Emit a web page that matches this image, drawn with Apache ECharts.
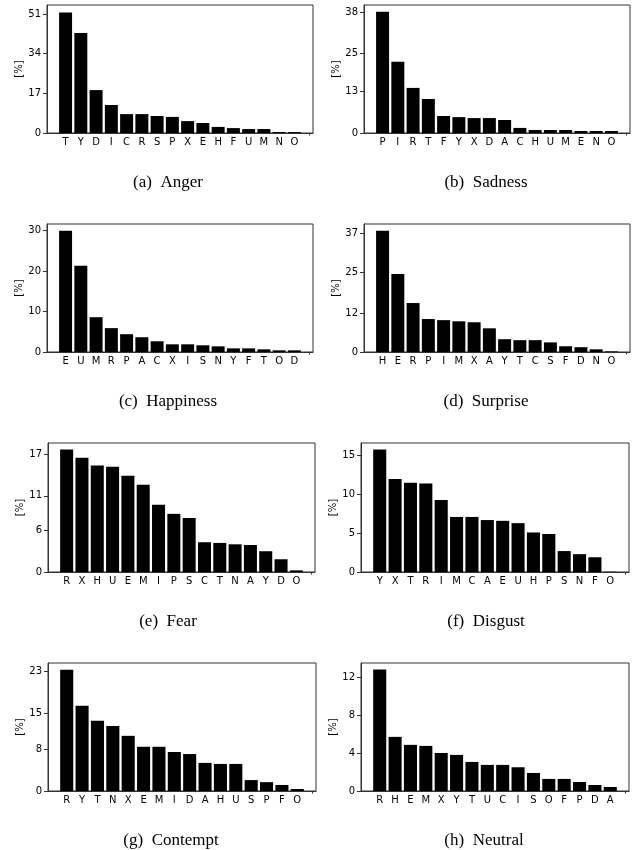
<!DOCTYPE html>
<html>
<head>
<meta charset="utf-8">
<script src="https://cdn.jsdelivr.net/npm/echarts@6/dist/echarts.min.js"></script>
<style>
html,body{margin:0;padding:0;background:#fff;}
#c{width:637px;height:850px;}
</style>
</head>
<body>
<div id="c"></div>
<script>
// ---- data ----
const angerCats = ['T','Y','D','I','C','R','S','P','X','E','H','F','U','M','N','O'];
const angerVals = [51.7,42.9,18.4,12.0,8.1,8.1,7.3,6.9,5.1,4.3,2.6,2.1,1.7,1.7,0.4,0.4];
const angerTicks = [0,17,34,51];

const sadnessCats = ['P','I','R','T','F','Y','X','D','A','C','H','U','M','E','N','O'];
const sadnessVals = [38.2,22.4,14.2,10.7,5.35,5.0,4.7,4.7,4.1,1.6,0.95,0.95,0.95,0.63,0.63,0.63];
const sadnessTicks = [0,13,25,38];

const happinessCats = ['E','U','M','R','P','A','C','X','I','S','N','Y','F','T','O','D'];
const happinessVals = [30.0,21.3,8.6,5.9,4.4,3.65,2.65,1.9,1.9,1.66,1.4,0.9,0.9,0.66,0.41,0.41];
const happinessTicks = [0,10,20,30];

const surpriseCats = ['H','E','R','P','I','M','X','A','Y','T','C','S','F','D','N','O'];
const surpriseVals = [37.9,24.4,15.3,10.3,9.96,9.6,9.3,7.4,4.0,3.7,3.7,3.0,1.8,1.5,0.84,0.2];
const surpriseTicks = [0,12,25,37];

const fearCats = ['R','X','H','U','E','M','I','P','S','C','T','N','A','Y','D','O'];
const fearVals = [17.7,16.5,15.4,15.2,13.9,12.6,9.7,8.4,7.8,4.3,4.2,4.0,3.9,3.0,1.84,0.24];
const fearTicks = [0,6,11,17];

const disgustCats = ['Y','X','T','R','I','M','C','A','E','U','H','P','S','N','F','O'];
const disgustVals = [15.8,12.0,11.5,11.4,9.3,7.1,7.1,6.7,6.6,6.3,5.1,4.9,2.7,2.3,1.9,0.04];
const disgustTicks = [0,5,10,15];

const contemptCats = ['R','Y','T','N','X','E','M','I','D','A','H','U','S','P','F','O'];
const contemptVals = [23.3,16.4,13.5,12.5,10.6,8.5,8.5,7.5,7.1,5.4,5.2,5.2,2.1,1.7,1.16,0.39];
const contemptTicks = [0,8,15,23];

const neutralCats = ['R','H','E','M','X','Y','T','U','C','I','S','O','F','P','D','A'];
const neutralVals = [12.8,5.7,4.86,4.75,4.0,3.8,3.06,2.75,2.75,2.5,1.9,1.27,1.27,0.95,0.63,0.42];
const neutralTicks = [0,4,8,12];

const captions = ['(a)\u2002Anger','(b)\u2002Sadness','(c)\u2002Happiness','(d)\u2002Surprise',
                  '(e)\u2002Fear','(f)\u2002Disgust','(g)\u2002Contempt','(h)\u2002Neutral'];

// ---- layout ----
const panels = [
  {cats:angerCats, vals:angerVals, ticks:angerTicks, ymax:54.9, g:{left:47,top:5,width:266,height:128}, cap:[163,169]},
  {cats:sadnessCats, vals:sadnessVals, ticks:sadnessTicks, ymax:40.3, g:{left:364,top:5,width:266,height:128}, cap:[481,169]},
  {cats:happinessCats, vals:happinessVals, ticks:happinessTicks, ymax:31.65, g:{left:47,top:224,width:266,height:128}, cap:[163,388]},
  {cats:surpriseCats, vals:surpriseVals, ticks:surpriseTicks, ymax:40.0, g:{left:364,top:224,width:266,height:128}, cap:[481,388]},
  {cats:fearCats, vals:fearVals, ticks:fearTicks, ymax:18.64, g:{left:48,top:443,width:267,height:129}, cap:[163,608]},
  {cats:disgustCats, vals:disgustVals, ticks:disgustTicks, ymax:16.64, g:{left:361,top:443,width:268,height:129}, cap:[481,608]},
  {cats:contemptCats, vals:contemptVals, ticks:contemptTicks, ymax:24.6, g:{left:48,top:663,width:268,height:128}, cap:[166,827]},
  {cats:neutralCats, vals:neutralVals, ticks:neutralTicks, ymax:13.48, g:{left:361,top:663,width:268,height:128}, cap:[479,827]}
];

const XMIN = -1.2175, XMAX = 16.2175;
const FONT = 'DejaVu Sans';
const lineCol = '#333';

const option = {
  animation:false,
  backgroundColor:'#fff',
  title:[], grid:[], xAxis:[], yAxis:[], series:[]
};

panels.forEach((p,i)=>{
  option.grid.push(Object.assign({show:true, borderColor:lineCol, borderWidth:1, backgroundColor:'transparent', containLabel:false}, p.g));
  option.title.push({text:captions[i], left:p.cap[0], top:p.cap[1], textAlign:'center',
    textStyle:{fontFamily:'Liberation Serif', fontSize:17, fontWeight:'normal', color:'#000'}});
  const cats = p.cats;
  option.xAxis.push({
    type:'value', gridIndex:i, min:XMIN, max:XMAX,
    splitLine:{show:false},
    axisLine:{show:true, onZero:false, lineStyle:{color:lineCol, width:1}},
    axisTick:{show:true, length:2.5, lineStyle:{color:lineCol, width:1}, customValues:[16]},
    axisLabel:{show:true, margin:4, fontFamily:FONT, fontSize:10, color:'#000',
      customValues:[0,1,2,3,4,5,6,7,8,9,10,11,12,13,14,15],
      formatter:(v)=>cats[Math.round(v)] || ''}
  });
  option.yAxis.push({
    type:'value', gridIndex:i, min:0, max:p.ymax,
    name:'[%]', nameLocation:'middle', nameGap:21, nameRotate:90,
    nameTextStyle:{fontFamily:FONT, fontSize:10, color:'#000'},
    splitLine:{show:false},
    axisLine:{show:true, onZero:false, lineStyle:{color:lineCol, width:1}},
    axisTick:{show:true, inside:false, length:4, lineStyle:{color:lineCol, width:1}, customValues:p.ticks},
    axisLabel:{show:true, margin:6, fontFamily:FONT, fontSize:10, color:'#000',
      customValues:p.ticks, formatter:(v)=>String(Math.round(v))}
  });
  const bw = 0.85 * p.g.width / (XMAX - XMIN);
  option.series.push({
    type:'bar', xAxisIndex:i, yAxisIndex:i, barWidth:bw,
    itemStyle:{color:'#000'},
    data:p.vals.map((v,k)=>[k,v])
  });
});

const chart = echarts.init(document.getElementById('c'), null, {renderer:'canvas'});
chart.setOption(option);
</script>
</body>
</html>
